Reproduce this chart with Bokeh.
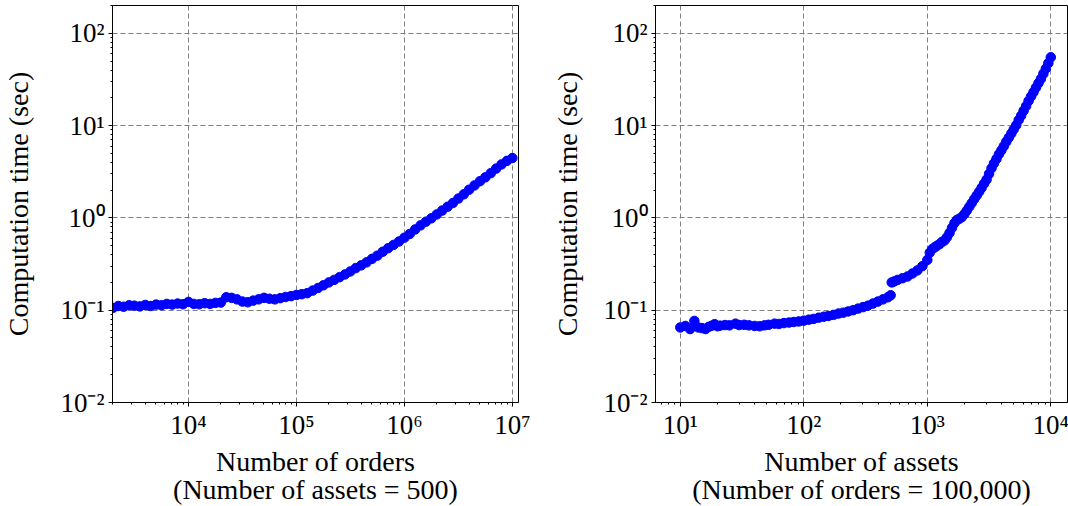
from bokeh.plotting import figure
from bokeh.layouts import row
from bokeh.models import FixedTicker, Range1d
from bokeh.embed import file_html
from bokeh.resources import INLINE

# ---------------- data ----------------
orders_n = [2000, 2240, 2510, 2820, 3160, 3550, 3980, 4470, 5010, 5620,
            6310, 7080, 7940, 8910, 10000, 11220, 12590, 14130, 15850, 17780,
            19950, 22390, 25120, 28180, 31620, 35480, 39810, 44670, 50120, 56230,
            63100, 70790, 79430, 89130, 100000, 112200, 125900, 141300, 158500, 177800,
            199500, 223900, 251200, 281800, 316200, 354800, 398100, 446700, 501200, 562300,
            631000, 707900, 794300, 891300, 1000000, 1122000, 1259000, 1413000, 1585000, 1778000,
            1995000, 2239000, 2512000, 2818000, 3162000, 3548000, 3981000, 4467000, 5012000, 5623000,
            6310000, 7079000, 7943000, 8913000, 10000000]
orders_time = [0.106, 0.111, 0.109, 0.113, 0.112, 0.110, 0.114, 0.111, 0.115, 0.113,
               0.117, 0.115, 0.118, 0.116, 0.123, 0.117, 0.116, 0.119, 0.117, 0.120,
               0.121, 0.138, 0.136, 0.131, 0.124, 0.122, 0.127, 0.131, 0.136, 0.133,
               0.131, 0.135, 0.139, 0.142, 0.146, 0.149, 0.153, 0.163, 0.174, 0.186,
               0.200, 0.213, 0.228, 0.244, 0.263, 0.286, 0.306, 0.33, 0.36, 0.39,
               0.43, 0.47, 0.51, 0.555, 0.61, 0.67, 0.75, 0.83, 0.91, 0.99,
               1.09, 1.20, 1.32, 1.45, 1.62, 1.80, 2.02, 2.25, 2.50, 2.75,
               3.05, 3.42, 3.80, 4.15, 4.45]

assets_n = [10, 11, 12, 13, 14, 15, 16, 17, 18, 19, 20, 21,
            23, 25, 28, 30, 33, 36, 40, 44, 48, 52, 58, 63, 69, 76, 83, 91,
            100, 110, 120, 132, 145, 158, 174, 191, 209, 229, 251, 275, 302, 331, 363, 398, 437, 479, 505,
            515, 540, 575, 631, 692, 759, 832, 912,
            1000, 1047, 1096, 1148, 1202, 1259, 1318, 1380, 1445, 1514, 1585, 1660, 1738, 1820, 1905, 1995,
            2089, 2188, 2291, 2399, 2512, 2630, 2754, 2884, 3020, 3162,
            3311, 3467, 3631, 3802, 3981, 4169, 4365, 4571, 4786, 5012,
            5248, 5495, 5754, 6026, 6310, 6607, 6918, 7244, 7586, 7943,
            8318, 8710, 9120, 9550, 10000]
assets_time = [0.065, 0.0675, 0.0625, 0.0765, 0.065, 0.064, 0.0625, 0.066, 0.068, 0.0705, 0.067, 0.068,
               0.069, 0.0685, 0.0715, 0.069, 0.0695, 0.0685, 0.0675, 0.067, 0.0685, 0.0695, 0.0715, 0.071,
               0.0725, 0.0735, 0.0745, 0.0755,
               0.077, 0.079, 0.0805, 0.083, 0.085, 0.0865, 0.089, 0.092, 0.094, 0.097, 0.1, 0.104, 0.108,
               0.112, 0.118, 0.124, 0.131, 0.138, 0.145,
               0.2, 0.205, 0.213, 0.222, 0.232, 0.25, 0.27, 0.3,
               0.35, 0.42, 0.46, 0.48, 0.5, 0.52, 0.55, 0.57, 0.62, 0.69, 0.78, 0.88, 0.95, 0.98, 1.02, 1.1,
               1.2, 1.32, 1.45, 1.6, 1.75, 1.92, 2.12, 2.35, 2.6, 3.0,
               3.45, 3.9, 4.35, 4.9, 5.4, 6.0, 6.7, 7.4, 8.2, 9.1,
               10.1, 11.5, 12.8, 14.5, 16.3, 18.5, 20.7, 23.0, 25.8, 28.8,
               32.0, 36.5, 41.5, 47.5, 55.0]

y_ticks = [0.01, 0.1, 1, 10, 100]
y_tick_labels = ["10\u207b\u00b2", "10\u207b\u00b9", "10\u2070", "10\u00b9", "10\u00b2"]
orders_ticks = [1e4, 1e5, 1e6, 1e7]
orders_tick_labels = ["10\u2074", "10\u2075", "10\u2076", "10\u2077"]
assets_ticks = [10, 100, 1000, 10000]
assets_tick_labels = ["10\u00b9", "10\u00b2", "10\u00b3", "10\u2074"]

y_label = "Computation time (sec)"
orders_label = "Number of orders\n(Number of assets = 500)"
assets_label = "Number of assets\n(Number of orders = 100,000)"

FONT = "Liberation Serif"


def minor_list(lo_exp, hi_exp):
    return [m * 10.0 ** e for e in range(lo_exp, hi_exp + 1) for m in range(2, 10)]


def make_panel(xs, ys, xr, xticks, xlabels, xminor, xlabel, bl, fw, br, ylab_off):
    p = figure(x_axis_type="log", y_axis_type="log",
               x_range=Range1d(*xr), y_range=Range1d(0.01, 200),
               frame_width=fw, frame_height=397,
               min_border_left=bl, min_border_right=br,
               min_border_top=5, min_border_bottom=104,
               output_backend="svg", toolbar_location=None,
               background_fill_color="white", border_fill_color="white")
    p.outline_line_color = "black"
    p.outline_line_width = 1

    p.xaxis.ticker = FixedTicker(ticks=xticks, minor_ticks=xminor)
    p.yaxis.ticker = FixedTicker(ticks=y_ticks, minor_ticks=minor_list(-3, 2))
    p.xaxis.major_label_overrides = dict(zip(xticks, xlabels))
    p.yaxis.major_label_overrides = dict(zip(y_ticks, y_tick_labels))
    p.xaxis.axis_label = xlabel
    p.yaxis.axis_label = y_label

    for ax in (p.xaxis[0], p.yaxis[0]):
        ax.axis_line_color = "black"
        ax.axis_line_width = 1
        ax.major_tick_line_color = "black"
        ax.minor_tick_line_color = "black"
        ax.major_tick_out = 4
        ax.major_tick_in = 0
        ax.minor_tick_out = 2
        ax.minor_tick_in = 0
        ax.major_label_text_font = FONT
        ax.major_label_text_font_size = "27px"
        ax.major_label_text_color = "black"
        ax.axis_label_text_font = FONT
        ax.axis_label_text_font_size = "28px"
        ax.axis_label_text_font_style = "normal"
        ax.axis_label_text_color = "black"
        ax.axis_label_text_line_height = 0.92
    p.xaxis.major_label_standoff = 3
    p.xaxis.axis_label_standoff = 3
    p.yaxis.major_label_standoff = 4
    p.yaxis.axis_label_standoff = ylab_off

    for g in (p.xgrid[0], p.ygrid[0]):
        g.grid_line_color = "#7f7f7f"
        g.grid_line_dash = "5 3"
        g.grid_line_width = 1

    p.scatter(xs, ys, marker="circle", size=9.5, fill_color="#0000ff", line_color="#0000ff")
    return p


p1 = make_panel(orders_n, orders_time, (1980, 1.14e7), orders_ticks, orders_tick_labels,
                minor_list(3, 7), orders_label, 112, 406, 31, 23)
p2 = make_panel(assets_n, assets_time, (6.3, 13650), assets_ticks, assets_tick_labels,
                minor_list(0, 4), assets_label, 104, 412, 3, 17)

layout = row(p1, p2)
open("out.html", "w").write(file_html(layout, INLINE))
